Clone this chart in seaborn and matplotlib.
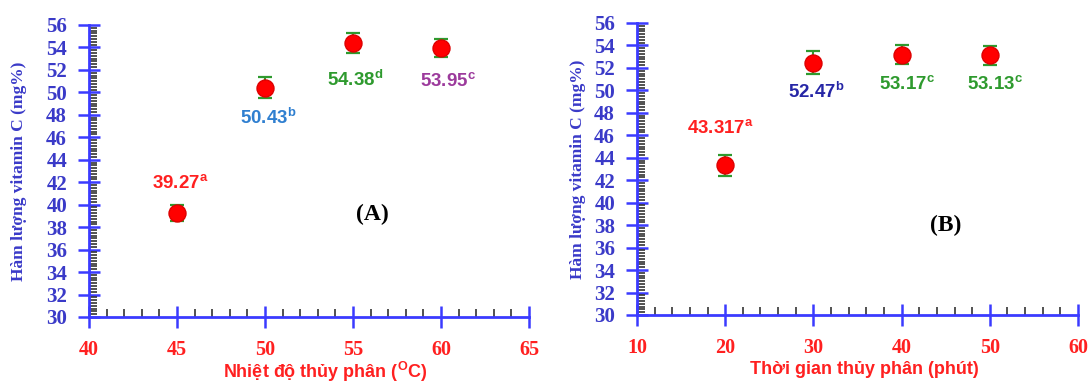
import matplotlib
matplotlib.use("Agg")
import matplotlib.pyplot as plt
import seaborn as sns
import pandas as pd
import numpy as np
from matplotlib.ticker import MultipleLocator

# ---------------- data ----------------
temp_x = [45, 50, 55, 60]
temp_y = [39.27, 50.43, 54.38, 53.95]
temp_err = [0.7, 0.93, 0.9, 0.8]
temp_labels = ["39.27", "50.43", "54.38", "53.95"]
temp_letters = ["a", "b", "d", "c"]
temp_label_x = [45.2, 50.2, 55.1, 60.4]
temp_label_y = [42.0, 47.7, 51.1, 51.1]

time_x = [20, 30, 40, 50]
time_y = [43.317, 52.47, 53.17, 53.13]
time_err = [0.92, 1.0, 0.86, 0.86]
time_labels = ["43.317", "52.47", "53.17", "53.13"]
time_letters = ["a", "b", "c", "c"]
time_label_x = [19.5, 30.3, 40.6, 50.6]
time_label_y = [46.7, 49.9, 50.6, 50.6]

temp_colors = ["#ff2020", "#2f7fd0", "#2e9a2e", "#9c3a9c"]
time_colors = ["#ff2020", "#2626a6", "#2e9a2e", "#2e9a2e"]

ylabel = "Hàm lượng vitamin C (mg%)"
xlabel_a = "Nhiệt độ thủy phân ($\\mathbf{^{O}}$C)"
xlabel_b = "Thời gian thủy phân (phút)"

sns.set_style("white")
plt.rcParams["mathtext.fontset"] = "custom"
plt.rcParams["mathtext.rm"] = "Liberation Sans"
plt.rcParams["mathtext.bf"] = "Liberation Sans:bold"

AX_BLUE = "#3b3bff"
YT_BLUE = "#3a3ac8"
XT_RED = "#ff2020"
ERR_GREEN = "#2e9a2e"

fig = plt.figure(figsize=(10.89, 3.85), dpi=100)
axA = fig.add_axes([89/1089, 1-317/385, 440/1089, 292/385])
axB = fig.add_axes([637/1089, 1-315/385, 441/1089, 292/385])


def style(ax, xlim, xmajor, xminor, xlabel, label_xcenter, ylabelpad):
    ax.set_xlim(*xlim)
    ax.set_ylim(30, 56)
    ax.set_facecolor("white")
    for s in ["top", "right"]:
        ax.spines[s].set_visible(False)
    for s in ["left", "bottom"]:
        ax.spines[s].set_color(AX_BLUE)
        ax.spines[s].set_linewidth(2)
    ax.xaxis.set_major_locator(MultipleLocator(xmajor))
    ax.xaxis.set_minor_locator(MultipleLocator(xminor))
    ax.yaxis.set_major_locator(MultipleLocator(2))
    ax.yaxis.set_minor_locator(MultipleLocator(0.25))
    ax.tick_params(axis="x", which="both", bottom=True, top=False)
    ax.tick_params(axis="y", which="both", left=True, right=False)
    ax.tick_params(axis="both", which="major", direction="inout", length=16.5,
                   width=1.8, color=AX_BLUE)
    ax.tick_params(axis="y", which="major", pad=7.5, labelcolor=YT_BLUE)
    ax.tick_params(axis="x", which="major", pad=8, labelcolor=XT_RED)
    ax.tick_params(axis="both", which="minor", direction="in", length=6,
                   width=1.2, color="#333333")
    for lab in ax.get_yticklabels():
        lab.set_fontfamily("Liberation Serif")
        lab.set_fontweight("bold")
        lab.set_fontsize(15)
    for lab in ax.get_xticklabels():
        lab.set_fontfamily("Liberation Serif")
        lab.set_fontweight("bold")
        lab.set_fontsize(14.5)
    ax.set_ylabel(ylabel, fontfamily="Liberation Serif", fontweight="bold",
                  fontsize=12.5, color=YT_BLUE, labelpad=ylabelpad)
    ax.set_xlabel("")
    ax.text(label_xcenter, -0.188, xlabel, transform=ax.transAxes,
            ha="center", va="center", fontfamily="Liberation Sans",
            fontweight="bold", fontsize=13, color=XT_RED)


def draw(ax, xs, ys, errs, labels, letters, lx, ly, colors):
    df = pd.DataFrame({"x": xs, "y": ys})
    ax.errorbar(xs, ys, yerr=errs, fmt="none", ecolor=ERR_GREEN,
                elinewidth=1.5, capsize=4.8, capthick=1.6, zorder=3)
    sns.scatterplot(data=df, x="x", y="y", ax=ax, color="#ff0000",
                    edgecolor="#dd0000", s=150, zorder=4, legend=False)
    for t, l, x, y, c in zip(labels, letters, lx, ly, colors):
        ax.text(x, y, "$\\mathbf{" + t + "^{" + l + "}}$", ha="center",
                va="center", fontsize=13.5, color=c)


draw(axA, temp_x, temp_y, temp_err, temp_labels, temp_letters,
     temp_label_x, temp_label_y, temp_colors)
draw(axB, time_x, time_y, time_err, time_labels, time_letters,
     time_label_x, time_label_y, time_colors)

style(axA, (40, 65), 5, 1, xlabel_a, (325-89)/440, 14)
style(axB, (10, 60), 10, 2, xlabel_b, (864-637)/441, 6)

axA.text(56.1, 39.1, "(A)", ha="center", va="center",
         fontfamily="Liberation Serif", fontweight="bold", fontsize=17, color="black")
axB.text(45.0, 38.0, "(B)", ha="center", va="center",
         fontfamily="Liberation Serif", fontweight="bold", fontsize=17, color="black")

fig.savefig("out.png", dpi=100)
